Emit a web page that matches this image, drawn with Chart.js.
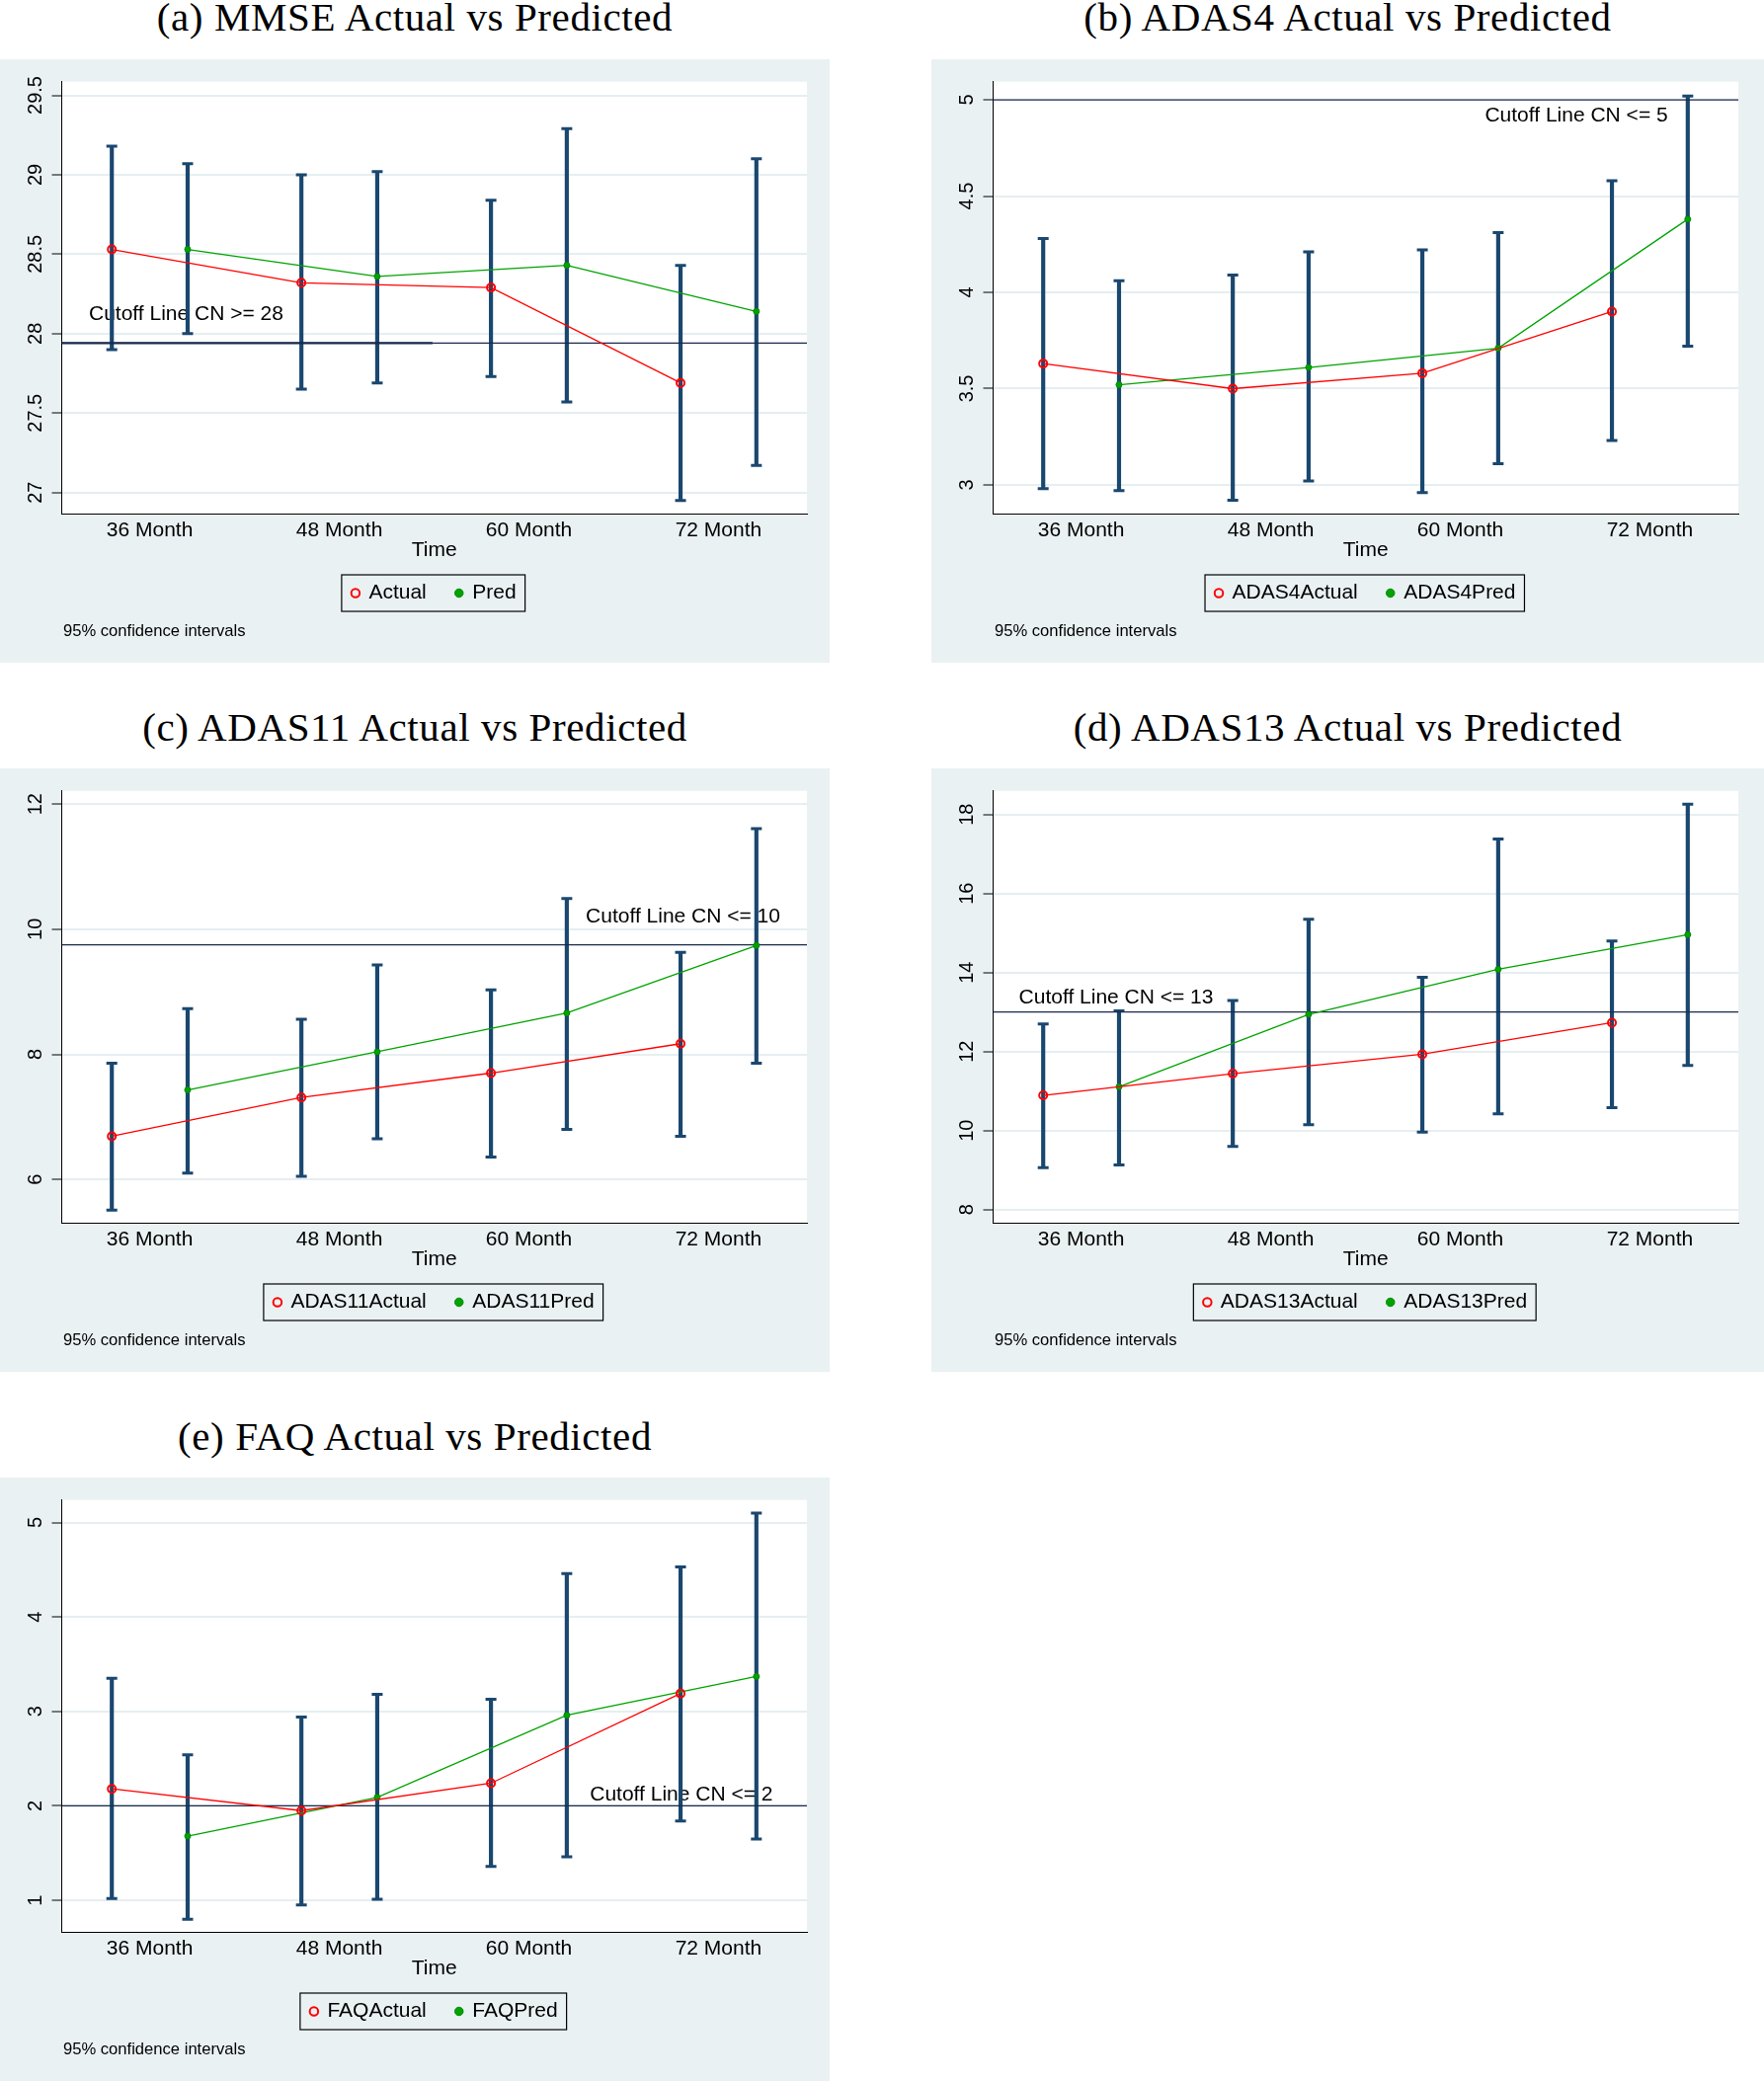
<!DOCTYPE html>
<html>
<head>
<meta charset="utf-8">
<title>Actual vs Predicted</title>
<script src="https://cdn.jsdelivr.net/npm/chart.js@4.4.1/dist/chart.umd.min.js"></script>
<style>
  body { margin: 0; background: #fff; }
  #page { position: relative; width: 1786px; height: 2107px; overflow: hidden; }
  .ttl { position: absolute; height: 50px; line-height: 50px; text-align: center; white-space: nowrap;
         font-family: "Liberation Serif", "DejaVu Serif", serif; font-size: 41px; letter-spacing: 0.6px; color: #000; }
  .panel { position: absolute; height: 611px; background: #eaf1f3; }
  .panel canvas { position: absolute; left: 0; top: 0; }
  .note { position: absolute; left: 64px; top: 569px; line-height: 20px; font: 16.6px "Liberation Sans", Arial, sans-serif; color: #000; }
</style>
</head>
<body>
<div id="page">
  <div class="ttl" style="left:0;top:-8px;width:840px">(a) MMSE Actual vs Predicted</div>
  <div class="panel" style="left:0;top:60px;width:840px"><canvas id="mmse" width="840" height="611"></canvas><div class="note">95% confidence intervals</div></div>

  <div class="ttl" style="left:943px;top:-8px;width:843px">(b) ADAS4 Actual vs Predicted</div>
  <div class="panel" style="left:943px;top:60px;width:843px"><canvas id="adas4" width="843" height="611"></canvas><div class="note">95% confidence intervals</div></div>

  <div class="ttl" style="left:0;top:711px;width:840px">(c) ADAS11 Actual vs Predicted</div>
  <div class="panel" style="left:0;top:778px;width:840px"><canvas id="adas11" width="840" height="611"></canvas><div class="note">95% confidence intervals</div></div>

  <div class="ttl" style="left:943px;top:711px;width:843px">(d) ADAS13 Actual vs Predicted</div>
  <div class="panel" style="left:943px;top:778px;width:843px"><canvas id="adas13" width="843" height="611"></canvas><div class="note">95% confidence intervals</div></div>

  <div class="ttl" style="left:0;top:1429px;width:840px">(e) FAQ Actual vs Predicted</div>
  <div class="panel" style="left:0;top:1496px;width:840px"><canvas id="faq" width="840" height="611"></canvas><div class="note">95% confidence intervals</div></div>
</div>

<script>
// time points (x axis)
var months = ['36 Month', '48 Month', '60 Month', '72 Month'];
var monthNums = [36, 48, 60, 72];

// MMSE
var mmseActual   = [28.53, 28.32, 28.29, 27.69];
var mmseActualLo = [27.90, 27.65, 27.73, 26.95];
var mmseActualHi = [29.18, 29.00, 28.84, 28.43];
var mmsePred     = [28.53, 28.36, 28.43, 28.14];
var mmsePredLo   = [28.00, 27.69, 27.57, 27.17];
var mmsePredHi   = [29.07, 29.02, 29.29, 29.10];
var mmseTicks    = [27, 27.5, 28, 28.5, 29, 29.5];

// ADAS4
var adas4Actual   = [3.63, 3.50, 3.58, 3.90];
var adas4ActualLo = [2.98, 2.92, 2.96, 3.23];
var adas4ActualHi = [4.28, 4.09, 4.22, 4.58];
var adas4Pred     = [3.52, 3.61, 3.71, 4.38];
var adas4PredLo   = [2.97, 3.02, 3.11, 3.72];
var adas4PredHi   = [4.06, 4.21, 4.31, 5.02];
var adas4Ticks    = [3, 3.5, 4, 4.5, 5];

// ADAS11
var adas11Actual   = [6.69, 7.31, 7.70, 8.17];
var adas11ActualLo = [5.51, 6.05, 6.36, 6.69];
var adas11ActualHi = [7.86, 8.56, 9.03, 9.63];
var adas11Pred     = [7.43, 8.04, 8.66, 9.74];
var adas11PredLo   = [6.10, 6.65, 6.80, 7.86];
var adas11PredHi   = [8.73, 9.43, 10.49, 11.61];
var adas11Ticks    = [6, 8, 10, 12];

// ADAS13
var adas13Actual   = [10.89, 11.44, 11.93, 12.73];
var adas13ActualLo = [9.06, 9.60, 9.96, 10.58];
var adas13ActualHi = [12.70, 13.29, 13.88, 14.80];
var adas13Pred     = [11.11, 12.94, 14.08, 14.96];
var adas13PredLo   = [9.13, 10.15, 10.42, 11.65];
var adas13PredHi   = [13.03, 15.35, 17.38, 18.26];
var adas13Ticks    = [8, 10, 12, 14, 16, 18];

// FAQ
var faqActual   = [2.18, 1.95, 2.24, 3.19];
var faqActualLo = [1.02, 0.95, 1.36, 1.84];
var faqActualHi = [3.35, 2.94, 3.13, 4.53];
var faqPred     = [1.68, 2.09, 2.96, 3.37];
var faqPredLo   = [0.80, 1.01, 1.46, 1.65];
var faqPredHi   = [2.54, 3.18, 4.46, 5.10];
var faqTicks    = [1, 2, 3, 4, 5];

var SANS = '"Liberation Sans", Arial, sans-serif';
Chart.defaults.font.family = SANS;
Chart.defaults.color = '#000';

var NAVY = '#1a476f',
    RED = '#ff0000',
    GREEN = '#00a300',
    CUTCOL = '#1a2a4c',
    SHIFT = 2.4,   // actual / pred sit either side of the month label
    X_MIN = 30.43,
    X_MAX = 77.6;

function widest(list, font) {
    var c = document.createElement('canvas').getContext('2d');
    c.font = font;
    var w = 0;
    list.forEach(function(t) {
        w = Math.max(w, c.measureText(String(t)).width);
    });
    return w;
}

function drawPanel(id, o) {
    var actPts = [], predPts = [], bars = [], caps = [];
    for (var i = 0; i < monthNums.length; i++) {
        var xa = monthNums[i] - SHIFT,
            xp = monthNums[i] + SHIFT;
        actPts.push({ x: xa, y: o.actual[i] });
        predPts.push({ x: xp, y: o.pred[i] });
        bars.push({ x: xa, y: [o.aLo[i], o.aHi[i]] });
        bars.push({ x: xp, y: [o.pLo[i], o.pHi[i]] });
        caps.push({ x: xa, y: o.aLo[i] }, { x: xa, y: o.aHi[i] });
        caps.push({ x: xp, y: o.pLo[i] }, { x: xp, y: o.pHi[i] });
    }
    var datasets = [{
        label: o.names[0],
        data: actPts,
        borderColor: RED,
        borderWidth: 1.3,
        pointStyle: 'circle',
        pointRadius: 4,
        pointBorderWidth: 2,
        pointBorderColor: RED,
        pointBackgroundColor: 'rgba(0,0,0,0)',
        order: 0
    }, {
        label: o.names[1],
        data: predPts,
        borderColor: GREEN,
        borderWidth: 1.3,
        pointStyle: 'circle',
        pointRadius: 3,
        pointBorderWidth: 1,
        pointBorderColor: '#008a00',
        pointBackgroundColor: GREEN,
        order: 1
    }, {
        data: [{ x: X_MIN, y: o.cut }, { x: X_MAX, y: o.cut }],
        borderColor: CUTCOL,
        borderWidth: 1.2,
        pointRadius: 0,
        order: 2
    }, {
        type: 'scatter',
        data: caps,
        pointStyle: 'line',
        pointRadius: 5.5,
        pointBorderWidth: 3,
        pointBorderColor: NAVY,
        order: 3
    }, {
        type: 'bar',
        data: bars,
        backgroundColor: NAVY,
        barThickness: 3.5,
        order: 4
    }];
    if (o.cutThickTo) { // heavier stretch of the cutoff line (panel a)
        datasets.push({
            data: [{ x: X_MIN, y: o.cut }, { x: o.cutThickTo, y: o.cut }],
            borderColor: CUTCOL,
            borderWidth: 2.2,
            pointRadius: 0,
            order: 2
        });
    }

    var yFont = '20px ' + SANS;
    var yPad = 16.1 - widest(o.ticks, yFont) / 2;

    var plotBg = {
        id: 'plotBg',
        beforeDraw: function(chart) {
            var a = chart.chartArea, ctx = chart.ctx;
            ctx.save();
            ctx.fillStyle = '#fff';
            ctx.fillRect(a.left, a.top, a.right - a.left, a.bottom - a.top);
            ctx.restore();
        }
    };
    var cutLabel = {
        id: 'cutLabel',
        beforeDatasetsDraw: function(chart) {
            var ctx = chart.ctx;
            ctx.save();
            ctx.font = '21px ' + SANS;
            ctx.fillStyle = '#000';
            ctx.textBaseline = 'middle';
            ctx.fillText(o.cutText, chart.scales.x.getPixelForValue(o.cutX), chart.scales.y.getPixelForValue(o.cutY));
            ctx.restore();
        }
    };
    var legendFrame = {
        id: 'legendFrame',
        afterDraw: function(chart) {
            var hb = chart.legend.legendHitBoxes;
            if (!hb || !hb.length) return;
            var last = hb[hb.length - 1],
                l = hb[0].left,
                r = last.left + last.width,
                t = hb[0].top,
                h = hb[0].height;
            var ctx = chart.ctx;
            ctx.save();
            ctx.strokeStyle = '#000';
            ctx.lineWidth = 1.2;
            ctx.strokeRect(l - 11, t - 8, r - l + 20, h + 16);
            ctx.restore();
        }
    };

    return new Chart(document.getElementById(id), {
        type: 'line',
        data: { datasets: datasets },
        plugins: [plotBg, cutLabel, legendFrame],
        options: {
            responsive: false,
            animation: false,
            events: [],
            devicePixelRatio: 1,
            layout: { padding: { left: 0, top: 22.7, right: o.padR, bottom: 50 } },
            scales: {
                x: {
                    type: 'linear',
                    min: X_MIN,
                    max: X_MAX,
                    offset: false,
                    afterBuildTicks: function(s) {
                        s.ticks = monthNums.map(function(v) { return { value: v }; });
                    },
                    afterFit: function(s) { s.height = 39.8; },
                    grid: { drawOnChartArea: false, drawTicks: false },
                    border: { color: '#000', width: 1 },
                    ticks: {
                        font: { size: 21 },
                        padding: 4,
                        maxRotation: 0,
                        autoSkip: false,
                        callback: function(v) { return months[monthNums.indexOf(v)]; }
                    },
                    title: { display: true, text: 'Time', font: { size: 21 }, padding: { top: 0, bottom: -10 } }
                },
                y: {
                    min: o.yMin,
                    max: o.yMax,
                    afterBuildTicks: function(s) {
                        s.ticks = o.ticks.map(function(v) { return { value: v }; });
                    },
                    afterFit: function(s) { s.width = 62.5; },
                    grid: { color: '#e6eef1', lineWidth: 2, tickLength: 10, tickColor: '#000', tickWidth: 1 },
                    border: { color: '#000', width: 1 },
                    ticks: {
                        font: { size: 20 },
                        minRotation: 90,
                        maxRotation: 90,
                        crossAlign: 'center',
                        padding: yPad,
                        callback: function(v) { return String(v); }
                    }
                }
            },
            plugins: {
                tooltip: { enabled: false },
                legend: {
                    position: 'bottom',
                    fullSize: false,
                    labels: {
                        usePointStyle: true,
                        boxWidth: 6,
                        boxHeight: 6,
                        padding: 30,
                        font: { size: 21 },
                        color: '#000',
                        filter: function(item) { return item.datasetIndex < 2; }
                    }
                }
            }
        }
    });
}

drawPanel('mmse', {
    actual: mmseActual, aLo: mmseActualLo, aHi: mmseActualHi,
    pred: mmsePred, pLo: mmsePredLo, pHi: mmsePredHi,
    ticks: mmseTicks, yMin: 26.866, yMax: 29.586,
    names: ['Actual', 'Pred'],
    cut: 27.94, cutThickTo: 53.9, cutText: 'Cutoff Line CN >= 28', cutX: 32.15, cutY: 28.12,
    padR: 23
});
drawPanel('adas4', {
    actual: adas4Actual, aLo: adas4ActualLo, aHi: adas4ActualHi,
    pred: adas4Pred, pLo: adas4PredLo, pHi: adas4PredHi,
    ticks: adas4Ticks, yMin: 2.85, yMax: 5.094,
    names: ['ADAS4Actual', 'ADAS4Pred'],
    cut: 5, cutText: 'Cutoff Line CN <= 5', cutX: 61.56, cutY: 4.915,
    padR: 26
});
drawPanel('adas11', {
    actual: adas11Actual, aLo: adas11ActualLo, aHi: adas11ActualHi,
    pred: adas11Pred, pLo: adas11PredLo, pHi: adas11PredHi,
    ticks: adas11Ticks, yMin: 5.305, yMax: 12.213,
    names: ['ADAS11Actual', 'ADAS11Pred'],
    cut: 9.75, cutText: 'Cutoff Line CN <= 10', cutX: 63.6, cutY: 10.2,
    padR: 23
});
drawPanel('adas13', {
    actual: adas13Actual, aLo: adas13ActualLo, aHi: adas13ActualHi,
    pred: adas13Pred, pLo: adas13PredLo, pHi: adas13PredHi,
    ticks: adas13Ticks, yMin: 7.662, yMax: 18.599,
    names: ['ADAS13Actual', 'ADAS13Pred'],
    cut: 13, cutText: 'Cutoff Line CN <= 13', cutX: 32.06, cutY: 13.37,
    padR: 26
});
drawPanel('faq', {
    actual: faqActual, aLo: faqActualLo, aHi: faqActualHi,
    pred: faqPred, pLo: faqPredLo, pHi: faqPredHi,
    ticks: faqTicks, yMin: 0.664, yMax: 5.239,
    names: ['FAQActual', 'FAQPred'],
    cut: 2, cutText: 'Cutoff Line CN <= 2', cutX: 63.86, cutY: 2.113,
    padR: 23
});
</script>
</body>
</html>
